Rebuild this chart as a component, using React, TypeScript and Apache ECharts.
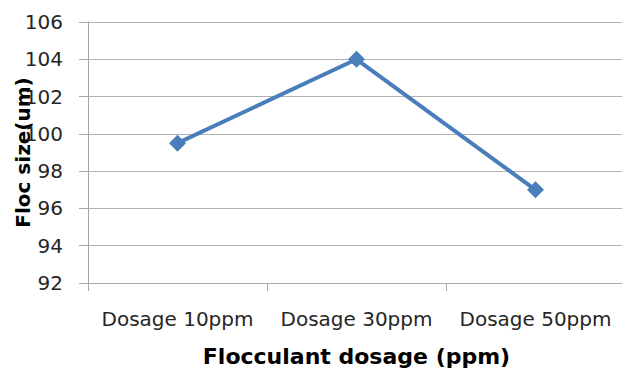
import React, { useEffect, useRef } from "react";
import * as echarts from "echarts";

const categories = ["Dosage 10ppm", "Dosage 30ppm", "Dosage 50ppm"];
const flocSize = [99.5, 104, 97];
const yMin = 92;
const yMax = 106;
const yInterval = 2;
const xTitle = "Flocculant dosage (ppm)";
const yTitle = "Floc size(um)";

export default function App() {
  const ref = useRef<HTMLDivElement>(null);
  useEffect(() => {
    if (!ref.current) return;
    const chart = echarts.init(ref.current, null, { renderer: "svg" });
    const axisGray = "#a6a6a6";
    chart.setOption({
      animation: false,
      backgroundColor: "#ffffff",
      grid: { left: 88, right: -3, top: 22, bottom: 94, outerBoundsMode: "none", containLabel: false },
      xAxis: {
        type: "category",
        data: categories,
        boundaryGap: true,
        name: xTitle,
        nameLocation: "middle",
        nameGap: 62,
        nameMoveOverlap: false,
        nameTextStyle: { fontFamily: "DejaVu Sans", fontWeight: "bold", fontSize: 22, color: "#000" },
        axisLine: { show: true, lineStyle: { color: axisGray, width: 1 } },
        axisTick: { show: true, alignWithLabel: false, length: 8, lineStyle: { color: axisGray } },
        axisLabel: { fontFamily: "DejaVu Sans", fontSize: 20, color: "#262626", margin: 26, interval: 0 },
        splitLine: { show: false },
      },
      yAxis: {
        type: "value",
        min: yMin,
        max: yMax,
        interval: yInterval,
        name: yTitle,
        nameLocation: "middle",
        nameGap: 55,
        nameRotate: 90,
        nameMoveOverlap: false,
        nameTextStyle: { fontFamily: "DejaVu Sans", fontWeight: "bold", fontSize: 20, color: "#000" },
        axisLine: { show: true, lineStyle: { color: axisGray, width: 1 } },
        axisTick: { show: true, length: 9, lineStyle: { color: axisGray } },
        axisLabel: { fontFamily: "DejaVu Sans", fontSize: 20, color: "#262626", margin: 25 },
        splitLine: { show: true, lineStyle: { color: "#b3b3b3", width: 1 } },
      },
      series: [
        {
          type: "line",
          data: flocSize,
          symbol: "diamond",
          symbolSize: 17,
          lineStyle: { color: "#4a7ebb", width: 4 },
          itemStyle: { color: "#4a7ebb" },
        },
      ],
    });
    return () => chart.dispose();
  }, []);
  return (
    <div
      ref={ref}
      style={{ position: "fixed", left: 0, top: 0, width: 622, height: 377, background: "#fff" }}
    />
  );
}
